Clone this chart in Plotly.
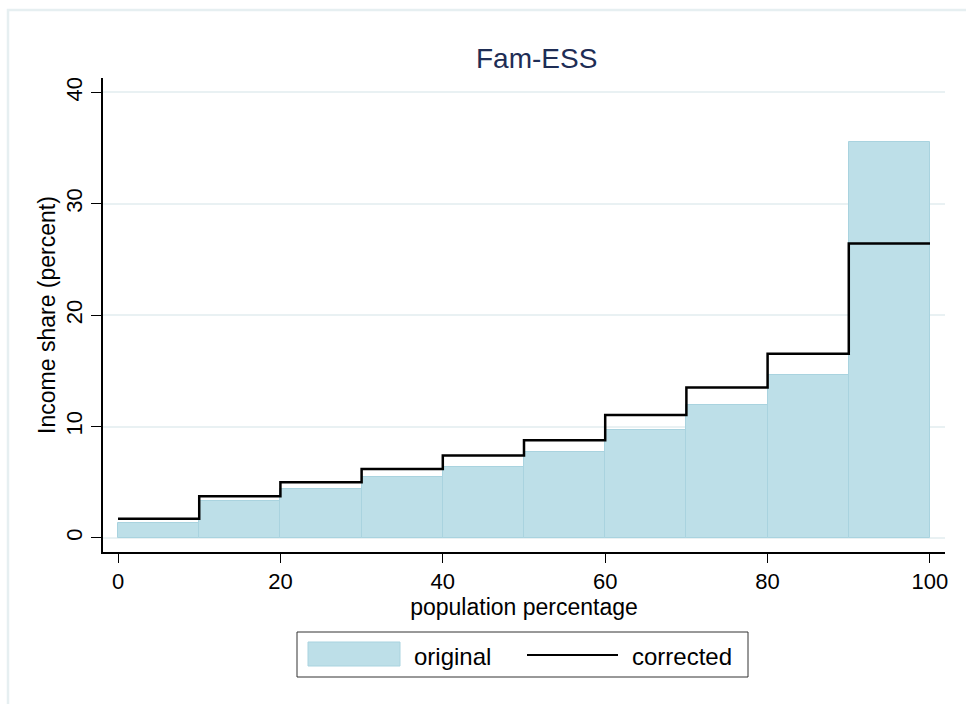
import plotly.graph_objects as go

# Decile bins of the population (percent) and income shares per decile
bin_edges = [0, 10, 20, 30, 40, 50, 60, 70, 80, 90, 100]
original = [1.38, 3.3, 4.4, 5.47, 6.41, 7.7, 9.69, 11.96, 14.65, 35.57]
corrected = [1.73, 3.75, 5.0, 6.2, 7.4, 8.78, 11.03, 13.5, 16.54, 26.43]

x_ticks = [0, 20, 40, 60, 80, 100]
y_ticks = [0, 10, 20, 30, 40]

W, H = 966, 704
PL, PR, PT, PB = 103, 945, 78, 552  # plot area in pixels

FONT = "Liberation Sans, Arial, sans-serif"
BAR_FILL = "#bddfe8"
BAR_EDGE = "#a9d3df"
GRID = "#e9f1f3"


def px(x):
    return (x - PL) / (PR - PL)


def py(y):
    return (PB - y) / (PB - PT)


centers = [(a + b) / 2 for a, b in zip(bin_edges[:-1], bin_edges[1:])]
widths = [b - a for a, b in zip(bin_edges[:-1], bin_edges[1:])]

fig = go.Figure()
fig.add_trace(go.Bar(
    x=centers, y=original, width=widths,
    marker=dict(color=BAR_FILL, line=dict(color=BAR_EDGE, width=1)),
    name="original", showlegend=False,
))
fig.add_trace(go.Scatter(
    x=bin_edges, y=corrected + [corrected[-1]],
    mode="lines", line=dict(color="black", width=2.5, shape="hv"),
    name="corrected", showlegend=False,
))

shapes = [
    # graph region border
    dict(type="rect", xref="paper", yref="paper",
         x0=px(8), x1=px(975), y0=py(715), y1=py(10),
         line=dict(color="#e6eff1", width=2.5), layer="below"),
    # legend box
    dict(type="rect", xref="paper", yref="paper",
         x0=px(297), x1=px(748), y0=py(677), y1=py(632),
         line=dict(color="#333333", width=1), fillcolor="white"),
    dict(type="rect", xref="paper", yref="paper",
         x0=px(308), x1=px(400), y0=py(666), y1=py(642),
         line=dict(color=BAR_EDGE, width=1), fillcolor=BAR_FILL),
    dict(type="line", xref="paper", yref="paper",
         x0=px(527), x1=px(618), y0=py(655), y1=py(655),
         line=dict(color="black", width=2)),
]

annotations = [
    dict(text="Fam-ESS", xref="paper", yref="paper", x=px(536), y=py(58),
         showarrow=False, xanchor="center", yanchor="middle",
         font=dict(family=FONT, size=28, color="#1e2d55")),
    dict(text="original", xref="paper", yref="paper", x=px(412), y=py(656),
         showarrow=False, xanchor="left", yanchor="middle",
         font=dict(family=FONT, size=24, color="black")),
    dict(text="corrected", xref="paper", yref="paper", x=px(630), y=py(656),
         showarrow=False, xanchor="left", yanchor="middle",
         font=dict(family=FONT, size=24, color="black")),
]

fig.update_layout(
    width=W, height=H,
    margin=dict(l=PL, r=W - PR, t=PT, b=H - PB),
    paper_bgcolor="white", plot_bgcolor="white",
    bargap=0, showlegend=False,
    shapes=shapes, annotations=annotations,
    font=dict(family=FONT, size=22, color="black"),
)

fig.update_xaxes(
    range=[-1.85, 101.85], tickvals=x_ticks,
    showgrid=False, zeroline=False,
    showline=True, linecolor="black", linewidth=1.5,
    ticks="outside", ticklen=9, tickcolor="black", tickwidth=1.2,
    tickfont=dict(family=FONT, size=22),
    title=dict(text="population percentage", standoff=0,
               font=dict(family=FONT, size=23)),
)
fig.update_yaxes(
    range=[-1.26, 41.3], tickvals=y_ticks, tickangle=-90,
    showgrid=True, gridcolor=GRID, gridwidth=1.5, zeroline=False,
    showline=True, linecolor="black", linewidth=1.5,
    ticks="outside", ticklen=10, tickcolor="black", tickwidth=1.2,
    tickfont=dict(family=FONT, size=22), ticklabelstandoff=0,
    title=dict(text="Income share (percent)", standoff=0,
               font=dict(family=FONT, size=23)),
)

fig.write_html("out.html")
